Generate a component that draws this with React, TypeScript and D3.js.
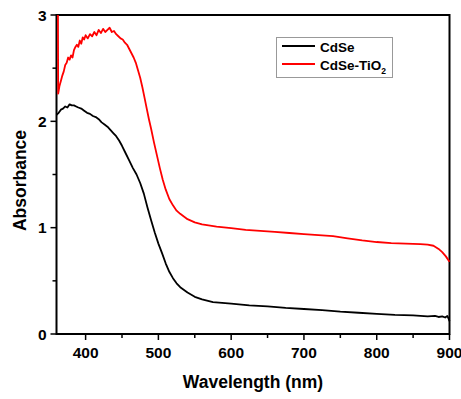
import React from "react";
import * as d3 from "d3";

// Absorption spectra (wavelength in nm, absorbance)
const cdseWavelength = [
  360, 363, 366, 369, 372, 375, 378, 381, 384, 387, 390, 394, 398, 402, 406, 410, 414, 418, 422, 426,
  430, 434, 438, 442, 446, 450, 455, 460, 465, 470, 475, 480, 485, 490, 495, 500, 505, 510, 515, 520,
  525, 530, 540, 550, 560, 575, 600, 625, 650, 675, 700, 725, 750, 775, 800, 825, 850, 860, 870, 880,
  885, 890, 894, 897, 899, 900,
];
const cdseAbsorbance = [
  2.06, 2.08, 2.11, 2.12, 2.14, 2.13, 2.16, 2.15, 2.15, 2.14, 2.13, 2.12, 2.1, 2.08, 2.07, 2.05, 2.04, 2.02, 1.99, 1.97,
  1.95, 1.92, 1.89, 1.86, 1.82, 1.77, 1.7, 1.63, 1.56, 1.5, 1.42, 1.32, 1.19, 1.07, 0.955, 0.85, 0.76, 0.665, 0.585, 0.525,
  0.477, 0.44, 0.39, 0.35, 0.325, 0.3, 0.285, 0.27, 0.26, 0.245, 0.235, 0.225, 0.21, 0.2, 0.19, 0.18, 0.175, 0.17, 0.165, 0.17,
  0.16, 0.165, 0.155, 0.17, 0.14, 0.12,
];

const tio2Wavelength = [
  362, 362.3, 364, 366, 368, 370, 372, 374, 376, 378, 380, 382, 384, 386, 388, 390, 392, 394, 396, 398,
  400, 403, 406, 409, 412, 415, 418, 421, 424, 427, 430, 433, 436, 439, 442, 445, 448, 451, 454, 457,
  460, 463, 466, 469, 472, 475, 478, 481, 484, 487, 490, 494, 498, 502, 506, 510, 515, 520, 525, 530,
  540, 550, 560, 580, 600, 620, 640, 660, 680, 700, 720, 740, 760, 780, 800, 820, 840, 860, 870, 878,
  885, 890, 895, 900,
];
const tio2Absorbance = [
  3.0, 2.26, 2.33, 2.38, 2.43, 2.47, 2.53, 2.55, 2.6, 2.58, 2.62, 2.6, 2.67, 2.7, 2.72, 2.7, 2.76, 2.73, 2.79, 2.77,
  2.81, 2.78, 2.82, 2.8, 2.84, 2.81, 2.86, 2.83, 2.87, 2.84, 2.86, 2.88, 2.84, 2.85, 2.82, 2.8, 2.78, 2.77, 2.74, 2.72,
  2.68, 2.64, 2.6, 2.55, 2.48, 2.41, 2.32, 2.22, 2.12, 2.02, 1.93, 1.8, 1.68, 1.56, 1.45, 1.36, 1.27, 1.21, 1.16, 1.13,
  1.08, 1.05, 1.03, 1.01, 0.995, 0.98, 0.97, 0.96, 0.95, 0.94, 0.93, 0.92, 0.9, 0.88, 0.865, 0.855, 0.85, 0.845, 0.84, 0.83,
  0.8, 0.77, 0.73, 0.68,
];

const xMajorTicks = [400, 500, 600, 700, 800, 900];
const xMinorTicks = [450, 550, 650, 750, 850];
const yMajorTicks = [0, 1, 2, 3];
const yMinorTicks = [0.5, 1.5, 2.5];

const seriesNames = ["CdSe", "CdSe-TiO"];
const seriesColors = ["#000000", "#ff0000"];

const W = 461;
const H = 399;
const left = 56.5;
const right = 449.5;
const top = 15;
const bottom = 334;
const font = "'Liberation Sans', Arial, sans-serif";

export default function App() {
  const x = d3.scaleLinear().domain([360, 900]).range([left, right]);
  const y = d3.scaleLinear().domain([0, 3]).range([bottom, top]);
  const line = d3
    .line<[number, number]>()
    .x((d) => x(d[0]))
    .y((d) => y(d[1]));

  const cdse = cdseWavelength.map((w, i) => [w, cdseAbsorbance[i]] as [number, number]);
  const tio2 = tio2Wavelength.map((w, i) => [w, tio2Absorbance[i]] as [number, number]);

  return (
    <svg
      width={W}
      height={H}
      style={{ position: "fixed", left: 0, top: 0, background: "#fff" }}
      fontFamily={font}
      fontWeight="bold"
    >
      <rect width={W} height={H} fill="#fff" />

      {/* frame */}
      <rect x={left} y={top} width={right - left} height={bottom - top} fill="none" stroke="#000" strokeWidth={2} />

      <g fill="none" strokeWidth={1.8} strokeLinejoin="round">
        <path d={line(cdse) || ""} stroke={seriesColors[0]} />
        <path d={line(tio2) || ""} stroke={seriesColors[1]} />
      </g>

      {/* x ticks */}
      {xMajorTicks.map((t) => (
        <g key={"xm" + t}>
          <line x1={x(t)} x2={x(t)} y1={bottom} y2={bottom + 6} stroke="#000" strokeWidth={1.5} />
          <text x={x(t)} y={bottom + 24} textAnchor="middle" fontSize={15.5}>
            {t}
          </text>
        </g>
      ))}
      {xMinorTicks.map((t) => (
        <line key={"xn" + t} x1={x(t)} x2={x(t)} y1={bottom} y2={bottom + 4} stroke="#000" strokeWidth={1.5} />
      ))}

      {/* y ticks */}
      {yMajorTicks.map((t) => (
        <g key={"ym" + t}>
          <line x1={left - 6} x2={left} y1={y(t)} y2={y(t)} stroke="#000" strokeWidth={1.5} />
          <text x={left - 10} y={y(t) + 5.5} textAnchor="end" fontSize={15.5}>
            {t}
          </text>
        </g>
      ))}
      {yMinorTicks.map((t) => (
        <line key={"yn" + t} x1={left - 4} x2={left} y1={y(t)} y2={y(t)} stroke="#000" strokeWidth={1.5} />
      ))}

      {/* axis titles */}
      <text x={(left + right) / 2} y={388} textAnchor="middle" fontSize={17.5}>
        Wavelength (nm)
      </text>
      <text
        transform={`translate(26, ${(top + bottom) / 2 + 6}) rotate(-90)`}
        textAnchor="middle"
        fontSize={17.5}
      >
        Absorbance
      </text>

      {/* legend */}
      <rect x={276.5} y={37.5} width={116} height={40} fill="#fff" stroke="#999" strokeWidth={1} />
      {seriesNames.map((name, i) => (
        <g key={name}>
          <line x1={282} x2={315} y1={46 + i * 18} y2={46 + i * 18} stroke={seriesColors[i]} strokeWidth={2} />
          <text x={320} y={51.5 + i * 18} fontSize={13.5}>
            {name}
            {i === 1 && (
              <tspan fontSize={8.5} dy={4}>
                2
              </tspan>
            )}
          </text>
        </g>
      ))}
    </svg>
  );
}
